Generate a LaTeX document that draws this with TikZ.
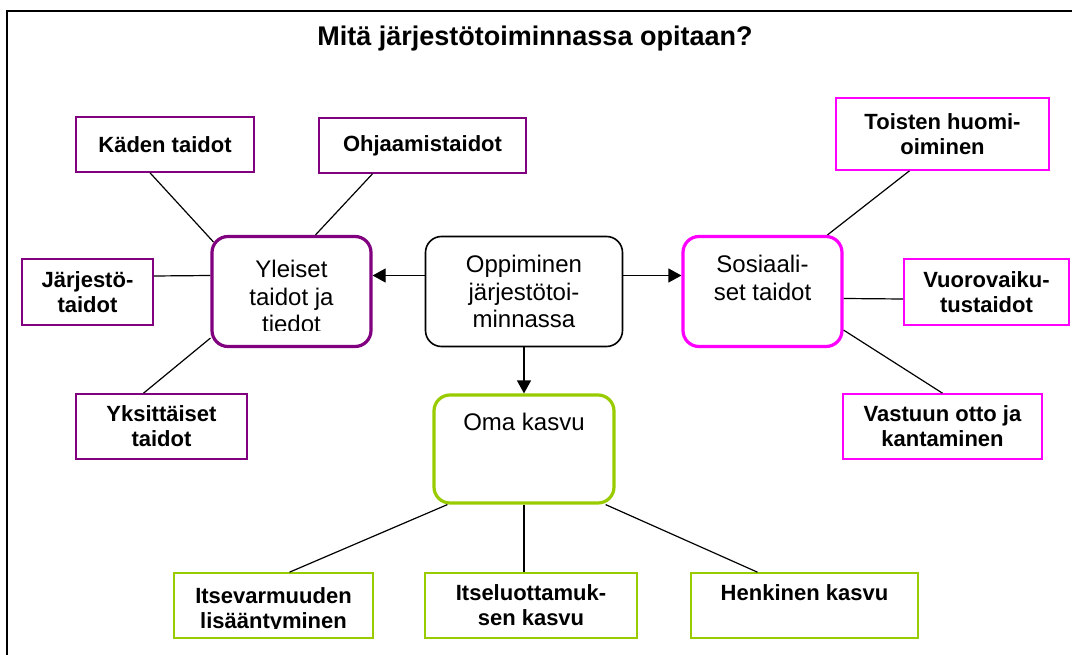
\documentclass[tikz,border=0pt]{standalone}
\usepackage{fontspec}
\setmainfont{Liberation Sans}
\usetikzlibrary{arrows.meta}
\definecolor{purp}{HTML}{800080}
\definecolor{magn}{HTML}{FF00FF}
\definecolor{lgreen}{HTML}{99CC00}

\begin{document}
\begin{tikzpicture}[x=1pt,y=-1pt,
        smallbox/.style={draw,line width=1.6pt,align=center,inner sep=0pt,
            font=\bfseries\fontsize{22}{25}\selectfont},
        bigbox/.style={draw,line width=3.2pt,rounded corners=16pt,align=center,inner sep=0pt,
            minimum width=159pt,minimum height=110pt,font=\fontsize{24}{27.5}\selectfont},
        bigtext/.style={align=center,inner sep=0pt,font=\fontsize{24}{27.5}\selectfont},
        link/.style={line width=1.2pt},
        arrow/.style={line width=1.2pt,-{Triangle[length=13pt,width=14pt]}}]

        \useasboundingbox (0,0) rectangle (1072,655);

        % frame
        \draw[line width=1.6pt] (7,655) -- (7,11) -- (1072,11);

        % title
        \node[font=\bfseries\fontsize{27}{30}\selectfont] (title) at (535,39) {Mitä järjestötoiminnassa opitaan?};

        % middle boxes
        \node[bigbox,draw=black,line width=1.6pt,minimum width=197pt] (oppiminen) at (524,291.5)
            {Oppiminen\\järjestötoi-\\minnassa};
        \node[bigbox,draw=purp] (yleiset) at (291.5,291.5) {};
        \begin{scope}
            \clip (yleiset.north west) rectangle ([yshift=18pt]yleiset.south east);
            \node[bigtext] (yleisettext) at ([yshift=-5pt]yleiset.center) {Yleiset\\taidot ja\\tiedot};
        \end{scope}
        \node[bigbox,draw=magn] (sosiaali) at (762.5,291.5) {Sosiaali-\\set taidot\\~};
        \node[bigbox,draw=lgreen,minimum width=180pt,minimum height=108pt] (oma) at (524,449)
            {Oma kasvu\\~\\~};

        % left boxes
        \node[smallbox,draw=purp,minimum width=178pt,minimum height=55pt] (kaden) at (165,144.5) {Käden taidot};
        \node[smallbox,draw=purp,minimum width=207pt,minimum height=55pt] (ohjaamis) at (422.5,145.5) {Ohjaamistaidot};
        \node[smallbox,draw=purp,minimum width=131pt,minimum height=66pt] (jarjesto) at (87.5,292) {Järjestö-\\taidot};
        \node[smallbox,draw=purp,minimum width=171pt,minimum height=65pt] (yksit) at (161.5,426.5) {Yksittäiset\\taidot};

        % right boxes
        \node[smallbox,draw=magn,minimum width=213pt,minimum height=72pt] (toisten) at (942.5,134) {Toisten huomi-\\oiminen};
        \node[smallbox,draw=magn,minimum width=165pt,minimum height=66pt] (vuoro) at (986.5,292) {Vuorovaiku-\\tustaidot};
        \node[smallbox,draw=magn,minimum width=199pt,minimum height=65pt] (vastuun) at (942.5,426.5) {Vastuun otto ja\\kantaminen};

        % bottom boxes
        \node[smallbox,draw=lgreen,minimum width=199pt,minimum height=65pt] (itsevarm) at (273.5,605.5) {};
        \begin{scope}
            \clip (itsevarm.north west) rectangle ([yshift=10pt]itsevarm.south east);
            \node[smallbox,draw=none] (itsevarmtext) at ([yshift=-5pt]itsevarm.center) {Itsevarmuuden\\lisääntyminen};
        \end{scope}
        \node[smallbox,draw=lgreen,minimum width=212pt,minimum height=65pt] (itseluot) at (531,605.5) {Itseluottamuk-\\sen kasvu};
        \node[smallbox,draw=lgreen,minimum width=227pt,minimum height=65pt] (henkinen) at (804.5,605.5) {Henkinen kasvu\\~};

        % arrows
        \draw[arrow] ([yshift=16pt]oppiminen.west) -- ([yshift=16pt]yleiset.east);
        \draw[arrow] ([yshift=16pt]oppiminen.east) -- ([yshift=16pt]sosiaali.west);
        \draw[arrow] (oppiminen.south) -- (oma.north);

        % lines left
        \draw[link] ([xshift=-15pt]kaden.south) -- ([xshift=3pt,yshift=-7pt]yleiset.north west);
        \draw[link] ([xshift=-50pt]ohjaamis.south) -- ([xshift=24pt]yleiset.north);
        \draw[link] ([yshift=16pt]jarjesto.east) -- ([yshift=16pt]yleiset.west);
        \draw[link] ([yshift=10pt]yleiset.south west) -- ([xshift=-18pt]yksit.north);

        % lines right
        \draw[link] ([xshift=-33pt]toisten.south) -- ([xshift=65pt]sosiaali.north);
        \draw[link] ([yshift=-7pt]sosiaali.east) -- ([yshift=-7pt]vuoro.west);
        \draw[link] ([yshift=18pt]sosiaali.south east) -- (vastuun.north);

        % lines bottom
        \draw[link] ([xshift=15pt]oma.south west) -- ([xshift=16pt]itsevarm.north);
        \draw[link] (oma.south) -- (oma.south |- itseluot.north);
        \draw[link] ([xshift=-10pt]oma.south east) -- ([xshift=-47pt]henkinen.north);
\end{tikzpicture}
\end{document}
